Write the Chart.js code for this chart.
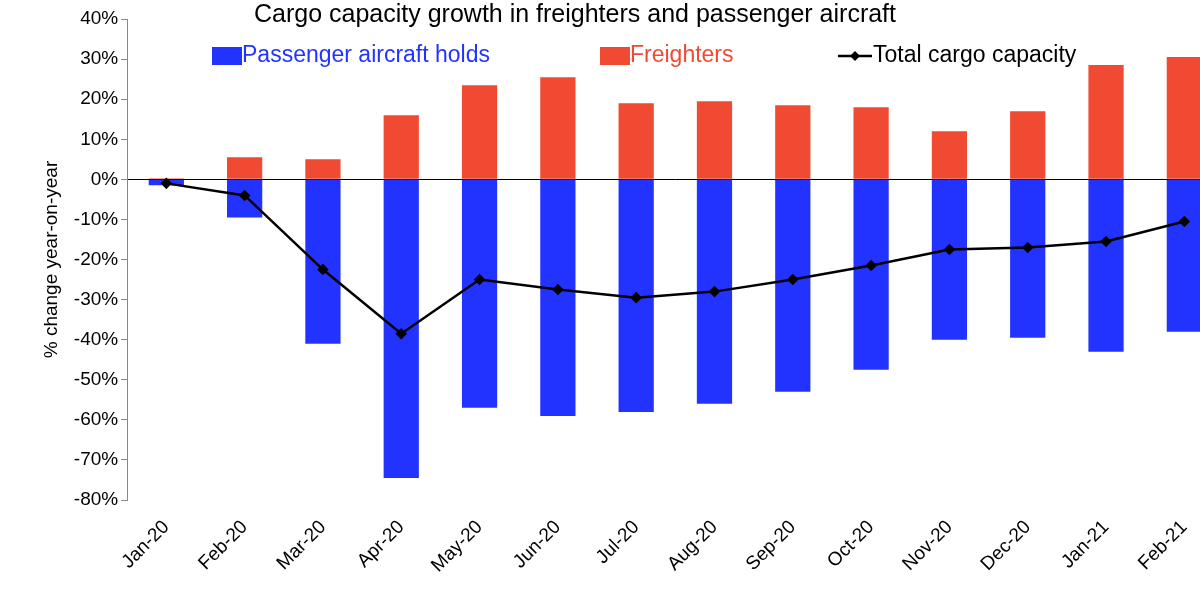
<!DOCTYPE html>
<html><head><meta charset="utf-8">
<script src="https://cdn.jsdelivr.net/npm/chart.js@4"></script>
<style>
html,body{margin:0;padding:0;overflow:hidden;background:#fff;width:1200px;height:592px}
</style></head>
<body>
<canvas id="cargoChart" width="1230" height="592"></canvas>
<script>
var months = ['Jan-20','Feb-20','Mar-20','Apr-20','May-20','Jun-20','Jul-20','Aug-20','Sep-20','Oct-20','Nov-20','Dec-20','Jan-21','Feb-21'];
var passengerHolds = [-1.5, -9.5, -41, -74.5, -57, -59, -58, -56, -53, -47.5, -40, -39.5, -43, -38];
var freighters = [0.3, 5.5, 5, 16, 23.5, 25.5, 19, 19.5, 18.5, 18, 12, 17, 28.5, 30.5];
var totalCapacity = [-1, -4, -22.5, -38.5, -25, -27.5, -29.5, -28, -25, -21.5, -17.5, -17, -15.5, -10.5];

var BLUE = '#2233ff', RED = '#f04a32';
var FONT = '"Liberation Sans", Arial, sans-serif';

// title and legend drawn over the plot like the original
var legendPlugin = {
    id: 'inlineLegend',
    afterDraw: function (chart) {
        var c = chart.ctx;
        c.save();
        c.textBaseline = 'middle';
        c.textAlign = 'center';
        c.fillStyle = '#000';
        c.font = '25px ' + FONT;
        c.fillText('Cargo capacity growth in freighters and passenger aircraft', 575, 15);
        c.textAlign = 'left';
        c.font = '23px ' + FONT;
        var y = 56;
        c.fillStyle = BLUE; c.fillRect(212, y - 9, 30, 18);
        c.fillText('Passenger aircraft holds', 242, y);
        c.fillStyle = RED; c.fillRect(600, y - 9, 30, 18);
        c.fillText('Freighters', 630, y);
        c.strokeStyle = '#000'; c.lineWidth = 2.5;
        c.beginPath(); c.moveTo(838, y); c.lineTo(872, y); c.stroke();
        c.fillStyle = '#000';
        c.beginPath(); c.moveTo(855, y - 5); c.lineTo(860, y); c.lineTo(855, y + 5); c.lineTo(850, y); c.fill();
        c.fillText('Total cargo capacity', 873, y);
        c.restore();
    }
};

var ctx = document.getElementById('cargoChart').getContext('2d');
var cargoChart = new Chart(ctx, {
    data: {
        labels: months,
        datasets: [{
            type: 'line',
            label: 'Total cargo capacity',
            data: totalCapacity,
            borderColor: '#000',
            backgroundColor: '#000',
            borderWidth: 2.5,
            pointStyle: 'rectRot',
            pointRadius: 4,
            tension: 0,
            order: 0
        }, {
            type: 'bar',
            label: 'Passenger aircraft holds',
            data: passengerHolds,
            backgroundColor: BLUE,
            barPercentage: 0.45,
            categoryPercentage: 1,
            order: 1
        }, {
            type: 'bar',
            label: 'Freighters',
            data: freighters,
            backgroundColor: RED,
            barPercentage: 0.45,
            categoryPercentage: 1,
            order: 1
        }]
    },
    options: {
        responsive: false,
        animation: false,
        devicePixelRatio: 1,
        layout: { padding: { top: 19, right: 0, left: 40, bottom: 7 } },
        plugins: {
            legend: { display: false },
            tooltip: { enabled: false },
            title: { display: false }
        },
        scales: {
            x: {
                stacked: true,
                grid: { display: false },
                border: { display: false },
                ticks: {
                    color: '#000',
                    maxRotation: 45, minRotation: 45,
                    font: { size: 19, family: FONT },
                    padding: 8
                }
            },
            y: {
                stacked: true,
                min: -80, max: 40,
                ticks: {
                    stepSize: 10,
                    color: '#000',
                    font: { size: 19, family: FONT },
                    callback: function (v) { return v + '%'; }
                },
                grid: {
                    color: function (c) { return c.tick && c.tick.value === 0 ? '#000' : 'rgba(0,0,0,0)'; },
                    tickColor: '#888',
                    tickLength: 6
                },
                border: { color: '#888' },
                title: {
                    display: true,
                    text: '% change year-on-year',
                    color: '#000',
                    font: { size: 19, family: FONT },
                    padding: { top: 0, bottom: 8 }
                }
            }
        }
    },
    plugins: [legendPlugin]
});
</script>
</body></html>
